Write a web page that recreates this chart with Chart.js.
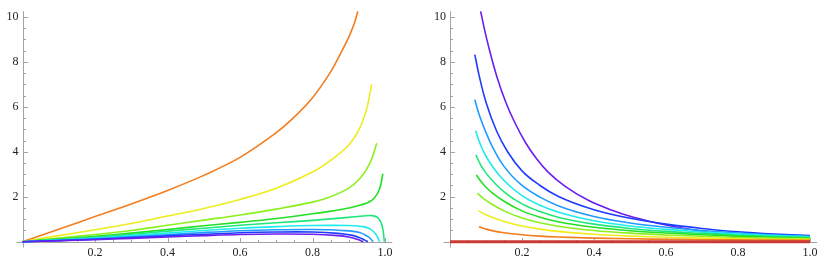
<!DOCTYPE html>
<html>
<head>
<meta charset="utf-8">
<script src="https://cdn.jsdelivr.net/npm/chart.js@4.4.0/dist/chart.umd.min.js"></script>
<style>
    html, body { margin: 0; padding: 0; background: #fff; }
    #wrap { position: relative; width: 830px; height: 273px; }
    .panel { position: absolute; top: 0; width: 415px; height: 273px; }
</style>
</head>
<body>
<div id="wrap">
    <div class="panel" style="left:0"><canvas id="left-chart" width="415" height="273"></canvas></div>
    <div class="panel" style="left:415px"><canvas id="right-chart" width="415" height="273"></canvas></div>
</div>
<script>
// tick labels
const X_TICKS = [0.2, 0.4, 0.6, 0.8, 1.0];
const Y_TICKS = [2, 4, 6, 8, 10];

// curve colours, red -> violet
const COLORS = {
    red: '#c93a34',
    orange: '#f47d1e',
    yellow: '#efec1e',
    chartreuse: '#8cef1e',
    green: '#22e022',
    spring: '#1ee87a',
    cyan: '#1eecec',
    azure: '#1e9cff',
    blue: '#1e3cff',
    violet: '#6a1ef0'
};

// left panel, [x, y]
const leftOrange = [[0,0],[0.1,0.55],[0.2,1.12],[0.3,1.68],[0.4,2.28],[0.5,2.95],[0.6,3.75],[0.7,4.85],[0.75,5.55],[0.8,6.4],[0.85,7.55],[0.875,8.3],[0.9,9.1],[0.915,9.7],[0.925,10.25]];
const leftYellow = [[0,0],[0.1,0.27],[0.2,0.53],[0.3,0.81],[0.4,1.14],[0.5,1.48],[0.6,1.88],[0.7,2.38],[0.8,3.1],[0.85,3.62],[0.9,4.3],[0.93,5.05],[0.95,5.95],[0.963,7.0]];
const leftChartreuse = [[0,0],[0.1,0.16],[0.2,0.32],[0.3,0.5],[0.4,0.73],[0.5,0.96],[0.6,1.19],[0.7,1.45],[0.8,1.76],[0.85,2.0],[0.9,2.38],[0.93,2.8],[0.95,3.25],[0.965,3.75],[0.977,4.38]];
const leftGreen = [[0,0],[0.1,0.12],[0.2,0.24],[0.3,0.38],[0.4,0.54],[0.5,0.71],[0.6,0.86],[0.7,1.03],[0.8,1.24],[0.85,1.36],[0.9,1.5],[0.95,1.72],[0.97,1.93],[0.985,2.35],[0.994,3.02]];
const leftSpring = [[0,0],[0.1,0.1],[0.2,0.2],[0.3,0.33],[0.4,0.47],[0.5,0.6],[0.6,0.73],[0.7,0.84],[0.8,0.95],[0.9,1.08],[0.94,1.14],[0.965,1.16],[0.98,1.07],[0.99,0.82],[0.995,0.45],[0.998,0]];
const leftCyan = [[0,0],[0.1,0.08],[0.2,0.16],[0.3,0.27],[0.4,0.38],[0.5,0.5],[0.6,0.6],[0.7,0.67],[0.8,0.72],[0.9,0.72],[0.94,0.67],[0.96,0.56],[0.975,0.32],[0.985,0]];
const leftAzure = [[0,0],[0.1,0.06],[0.2,0.13],[0.3,0.22],[0.4,0.31],[0.5,0.41],[0.6,0.49],[0.7,0.53],[0.8,0.54],[0.88,0.5],[0.93,0.41],[0.955,0.2],[0.967,0]];
const leftBlue = [[0,0],[0.1,0.05],[0.2,0.11],[0.3,0.18],[0.4,0.26],[0.5,0.33],[0.6,0.4],[0.7,0.43],[0.8,0.43],[0.87,0.37],[0.91,0.28],[0.935,0.14],[0.952,0]];
const leftViolet = [[0,0],[0.1,0.04],[0.2,0.09],[0.3,0.15],[0.4,0.21],[0.5,0.27],[0.6,0.32],[0.7,0.34],[0.8,0.33],[0.87,0.27],[0.9,0.21],[0.925,0.1],[0.94,0]];

// right panel
const rightRed = [[0,0],[0.5,0],[1.0,0]];
const rightOrange = [[0.08,0.67],[0.09,0.61],[0.1,0.56],[0.12,0.48],[0.15,0.4],[0.2,0.31],[0.25,0.25],[0.3,0.21],[0.4,0.16],[0.5,0.13],[0.6,0.11],[0.7,0.09],[0.8,0.08],[0.9,0.07],[1.0,0.06]];
const rightYellow = [[0.079,1.38],[0.09,1.28],[0.1,1.2],[0.12,1.06],[0.15,0.9],[0.2,0.7],[0.25,0.56],[0.3,0.46],[0.4,0.33],[0.5,0.25],[0.6,0.2],[0.7,0.16],[0.8,0.13],[0.9,0.11],[1.0,0.1]];
const rightChartreuse = [[0.076,2.16],[0.09,1.96],[0.1,1.84],[0.12,1.63],[0.15,1.37],[0.2,1.05],[0.25,0.84],[0.3,0.69],[0.4,0.5],[0.5,0.38],[0.6,0.3],[0.7,0.24],[0.8,0.19],[0.9,0.15],[1.0,0.13]];
const rightGreen = [[0.073,2.97],[0.085,2.7],[0.1,2.42],[0.12,2.14],[0.15,1.8],[0.2,1.37],[0.25,1.09],[0.3,0.89],[0.4,0.64],[0.5,0.49],[0.6,0.39],[0.7,0.31],[0.8,0.25],[0.9,0.2],[1.0,0.16]];
const rightSpring = [[0.072,3.86],[0.085,3.42],[0.1,3.05],[0.12,2.68],[0.15,2.22],[0.2,1.68],[0.25,1.34],[0.3,1.09],[0.4,0.78],[0.5,0.59],[0.6,0.46],[0.7,0.37],[0.8,0.29],[0.9,0.23],[1.0,0.19]];
const rightCyan = [[0.071,4.93],[0.085,4.3],[0.1,3.8],[0.12,3.3],[0.15,2.72],[0.2,2.05],[0.25,1.62],[0.3,1.32],[0.4,0.93],[0.5,0.7],[0.6,0.55],[0.7,0.43],[0.8,0.34],[0.9,0.27],[1.0,0.22]];
const rightAzure = [[0.069,6.31],[0.08,5.7],[0.1,4.85],[0.12,4.15],[0.15,3.35],[0.2,2.5],[0.25,1.98],[0.3,1.6],[0.4,1.12],[0.5,0.83],[0.6,0.64],[0.7,0.5],[0.8,0.39],[0.9,0.3],[1.0,0.24]];
const rightBlue = [[0.069,8.32],[0.08,7.45],[0.1,6.2],[0.13,4.9],[0.16,4.0],[0.2,3.15],[0.25,2.5],[0.3,2.02],[0.4,1.42],[0.5,1.04],[0.6,0.78],[0.7,0.59],[0.8,0.44],[0.9,0.34],[1.0,0.27]];
const rightViolet = [[0.085,10.25],[0.095,9.5],[0.11,8.5],[0.13,7.35],[0.155,6.2],[0.18,5.3],[0.21,4.4],[0.24,3.7],[0.274,3.07],[0.32,2.46],[0.384,1.84],[0.45,1.4],[0.5,1.13],[0.55,0.92],[0.6,0.74],[0.7,0.46],[0.8,0.23],[0.9,0.08],[1.0,0.0]];

const X_MAX = 1.02;
const Y_MAX = 10.25;
const X_MINOR_STEP = 0.05;
const Y_MINOR_STEP = 0.5;
const AXIS_COLOR = '#a3a3a3';
const FONT = { family: "'Liberation Serif', 'Times New Roman', serif", size: 12 };

// Mathematica style axes: lines through the origin, ticks pointing inward
const mathAxes = {
    id: 'mathAxes',
    beforeDatasetsDraw(chart) {
        const { ctx, chartArea: area, scales: { x, y } } = chart;
        const x0 = Math.round(x.getPixelForValue(0)) + 0.5;
        const y0 = Math.round(y.getPixelForValue(0)) + 0.5;
        ctx.save();
        ctx.strokeStyle = AXIS_COLOR;
        ctx.lineWidth = 1;
        ctx.beginPath();
        ctx.moveTo(x0 - 7, y0);
        ctx.lineTo(area.right, y0);
        ctx.moveTo(x0, y0 + 5);
        ctx.lineTo(x0, area.top);

        for (let i = 1; i * X_MINOR_STEP <= X_MAX; i++) {
            const px = Math.round(x.getPixelForValue(i * X_MINOR_STEP)) + 0.5;
            const len = i % 4 === 0 ? 4.5 : 2.5;
            ctx.moveTo(px, y0);
            ctx.lineTo(px, y0 - len);
        }
        for (let i = 1; i * Y_MINOR_STEP <= Y_MAX; i++) {
            const py = Math.round(y.getPixelForValue(i * Y_MINOR_STEP)) + 0.5;
            const len = i % 4 === 0 ? 4.5 : 2.5;
            ctx.moveTo(x0, py);
            ctx.lineTo(x0 + len, py);
        }
        ctx.stroke();
        ctx.restore();
    }
};

function makeChart(canvasId, series, yAxisWidth, padRight, curve) {
    const ctx = document.getElementById(canvasId);
    return new Chart(ctx, {
        type: 'line',
        data: {
            datasets: series.map(s => ({
                data: s.points.map(([x, y]) => ({ x, y })),
                borderColor: s.color,
                borderWidth: s.width || 1.6,
                pointRadius: 0,
                fill: false,
                tension: 0.35,
                cubicInterpolationMode: curve,
                clip: { left: 8, top: 0, right: 8, bottom: 6 }
            }))
        },
        options: {
            responsive: false,
            animation: false,
            devicePixelRatio: 1,
            layout: { padding: { left: 0, right: padRight, top: 0, bottom: 0 } },
            plugins: { legend: { display: false }, tooltip: { enabled: false } },
            scales: {
                x: {
                    type: 'linear',
                    min: 0,
                    max: X_MAX,
                    grid: { display: false, drawTicks: false },
                    border: { display: false },
                    afterBuildTicks: scale => { scale.ticks = X_TICKS.map(v => ({ value: v })); },
                    afterFit: scale => { scale.height = 31.3; },
                    ticks: {
                        font: FONT,
                        color: '#222',
                        padding: 4,
                        maxRotation: 0,
                        autoSkip: false,
                        callback: v => v.toFixed(1)
                    }
                },
                y: {
                    type: 'linear',
                    min: 0,
                    max: Y_MAX,
                    grid: { display: false, drawTicks: false },
                    border: { display: false },
                    afterBuildTicks: scale => { scale.ticks = Y_TICKS.map(v => ({ value: v })); },
                    afterFit: scale => { scale.width = yAxisWidth; },
                    ticks: {
                        font: FONT,
                        color: '#222',
                        padding: 4,
                        autoSkip: false,
                        callback: v => String(v)
                    }
                }
            }
        },
        plugins: [mathAxes]
    });
}

const leftSeries = [
    { points: leftViolet, color: COLORS.violet },
    { points: leftBlue, color: COLORS.blue },
    { points: leftAzure, color: COLORS.azure },
    { points: leftCyan, color: COLORS.cyan },
    { points: leftSpring, color: COLORS.spring },
    { points: leftGreen, color: COLORS.green },
    { points: leftChartreuse, color: COLORS.chartreuse },
    { points: leftYellow, color: COLORS.yellow },
    { points: leftOrange, color: COLORS.orange }
];

const rightSeries = [
    { points: rightRed, color: COLORS.red, width: 3 },
    { points: rightOrange, color: COLORS.orange },
    { points: rightYellow, color: COLORS.yellow },
    { points: rightChartreuse, color: COLORS.chartreuse },
    { points: rightGreen, color: COLORS.green },
    { points: rightSpring, color: COLORS.spring },
    { points: rightCyan, color: COLORS.cyan },
    { points: rightAzure, color: COLORS.azure },
    { points: rightBlue, color: COLORS.blue },
    { points: rightViolet, color: COLORS.violet }
];

document.fonts.load('12px "Liberation Serif"').catch(() => {}).then(() => {
    makeChart('left-chart', leftSeries, 22.5, 22.7, 'default');
    makeChart('right-chart', rightSeries, 35, 12.8, 'monotone');
});
</script>
</body>
</html>
